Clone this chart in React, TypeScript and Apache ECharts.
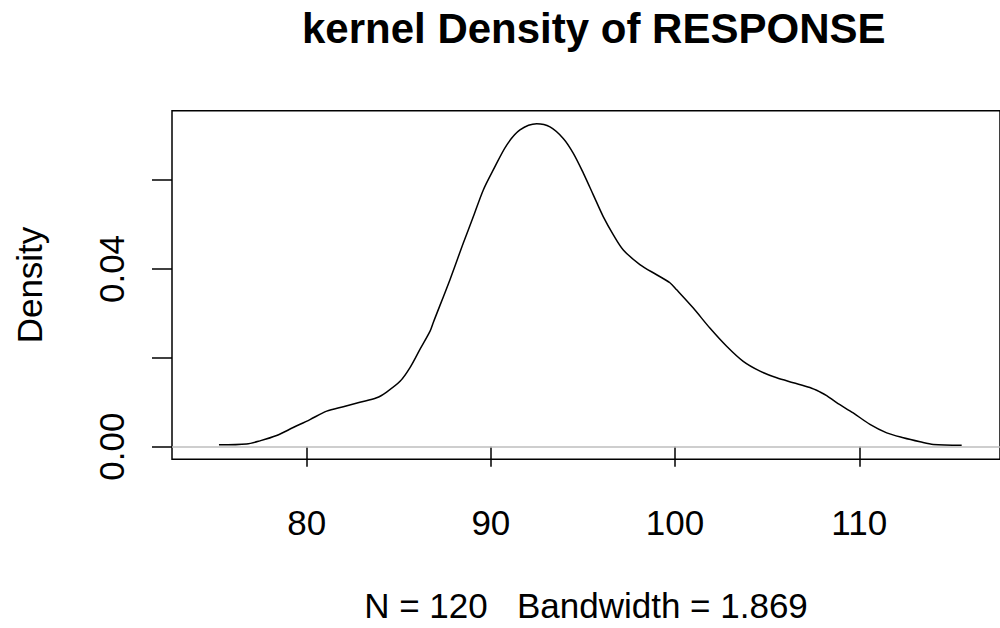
import React, { useEffect, useRef } from "react";
import * as echarts from "echarts";

const densityX = [
  75.24, 76.74, 77.46, 78.37, 79.27, 80.18, 81.09, 81.99, 82.89, 83.8, 84.34,
  85.07, 85.61, 86.15, 86.7, 86.87, 87.78, 88.5, 89.05, 89.59, 90.13, 90.86,
  91.58, 92.49, 93.21, 93.93, 94.47, 95.02, 95.56, 96.1, 96.65, 97.19, 98.09,
  99.0, 99.72, 100.09, 100.99, 101.89, 102.8, 103.7, 104.61, 105.52, 106.42,
  107.32, 107.87, 108.23, 108.77, 109.67, 110.58, 111.49, 112.39, 113.3,
  114.02, 115.56,
];
const densityY = [
  0.0004, 0.0006, 0.0013, 0.0025, 0.0043, 0.0061, 0.008, 0.009, 0.01, 0.011,
  0.0123, 0.0147, 0.0178, 0.0219, 0.026, 0.0279, 0.0376, 0.0458, 0.0518,
  0.0578, 0.0623, 0.0679, 0.0713, 0.0727, 0.072, 0.0694, 0.0661, 0.0616,
  0.0567, 0.0518, 0.0477, 0.0443, 0.041, 0.0387, 0.0369, 0.0353, 0.0312,
  0.0267, 0.0226, 0.0192, 0.017, 0.0155, 0.0144, 0.0133, 0.0123, 0.0115,
  0.0099, 0.0076, 0.005, 0.0031, 0.002, 0.0011, 0.0005, 0.0003,
];
const xTicks = [80, 90, 100, 110];
const yTicks = [0, 0.02, 0.04, 0.06];
const yLabels = [0, 0.04];
const titleText = "kernel Density of RESPONSE";
const xName = "N = 120   Bandwidth = 1.869";
const yName = "Density";

const FONT = "'Liberation Sans', Arial, sans-serif";

export default function App() {
  const ref = useRef<HTMLDivElement>(null);
  useEffect(() => {
    if (!ref.current) return;
    const chart = echarts.init(ref.current, null, { renderer: "svg" });
    const data = densityX.map((x, i) => [x, densityY[i]]);
    chart.setOption({
      animation: false,
      backgroundColor: "#ffffff",
      title: {
        text: titleText,
        left: 302,
        top: 7,
        padding: 0,
        textStyle: {
          fontFamily: FONT,
          fontSize: 42,
          fontWeight: "bold",
          color: "#000",
          lineHeight: 42,
        },
      },
      grid: {
        left: 172,
        top: 110.7,
        right: 0,
        height: 349.3,
        show: true,
        borderColor: "#000",
        borderWidth: 1.5,
        backgroundColor: "transparent",
        containLabel: false,
      },
      xAxis: {
        type: "value",
        min: 72.69,
        max: 117.64,
        name: xName,
        nameLocation: "middle",
        nameGap: 128.7,
        nameTextStyle: {
          fontFamily: FONT,
          fontSize: 35,
          color: "#000",
          lineHeight: 35,
        },
        axisLine: { show: false },
        splitLine: { show: false },
        axisTick: {
          show: true,
          inside: false,
          length: 20,
          customValues: xTicks,
          lineStyle: { color: "#000", width: 1.5 },
        },
        axisLabel: {
          customValues: xTicks,
          margin: 45.4,
          fontFamily: FONT,
          fontSize: 35,
          color: "#000",
          lineHeight: 35,
        },
      },
      yAxis: {
        type: "value",
        min: -0.00285,
        max: 0.07564,
        name: yName,
        nameLocation: "middle",
        nameGap: 124.9,
        nameTextStyle: {
          fontFamily: FONT,
          fontSize: 35,
          color: "#000",
          lineHeight: 35,
        },
        axisLine: { show: false },
        splitLine: { show: false },
        axisTick: {
          show: true,
          inside: false,
          length: 20,
          customValues: yTicks,
          lineStyle: { color: "#000", width: 1.5 },
        },
        axisLabel: {
          customValues: yLabels,
          rotate: 90,
          margin: 43.3,
          fontFamily: FONT,
          fontSize: 35,
          color: "#000",
          lineHeight: 35,
          formatter: (v: number) => v.toFixed(2),
        },
      },
      series: [
        {
          type: "line",
          data,
          smooth: 0.3,
          showSymbol: false,
          symbol: "none",
          lineStyle: { color: "#000", width: 1.5 },
          silent: true,
          markLine: {
            silent: true,
            symbol: "none",
            label: { show: false },
            lineStyle: { color: "#bebebe", width: 1.5, type: "solid" },
            data: [{ yAxis: 0 }],
            z: 1,
          },
          z: 3,
        },
      ],
    });
    return () => chart.dispose();
  }, []);
  return (
    <div
      ref={ref}
      style={{ position: "absolute", left: 0, top: 0, width: 1000, height: 628 }}
    />
  );
}
